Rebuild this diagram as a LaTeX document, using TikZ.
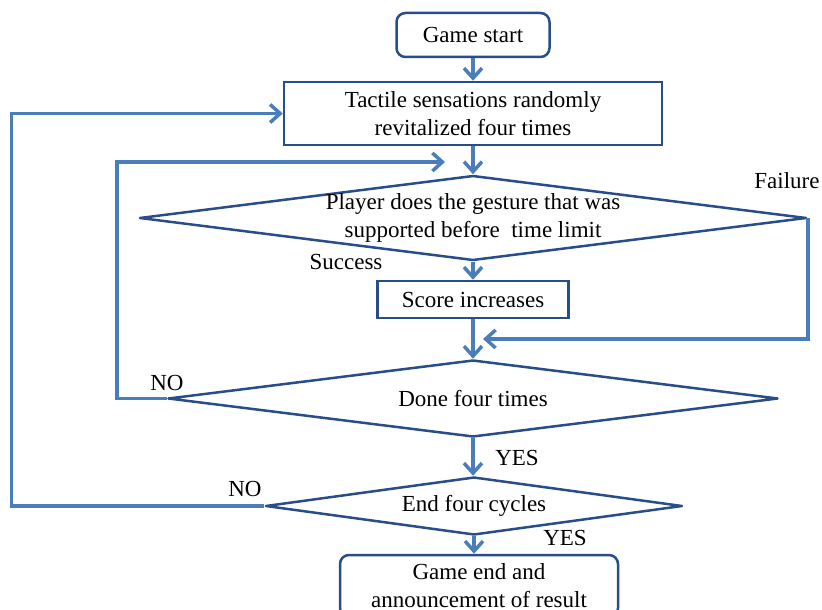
\documentclass[tikz,border=0pt]{standalone}
\usepackage{fontspec}
\setmainfont{Liberation Serif}
\usetikzlibrary{arrows.meta, shapes.geometric}

\definecolor{boxblue}{RGB}{41,77,137}
\definecolor{lineblue}{RGB}{74,126,187}

\tikzset{
  startbox/.style={draw=boxblue, line width=2.5pt, rounded corners=9pt, align=center, inner sep=0pt},
  procbox/.style={draw=boxblue, line width=2.5pt, align=center, inner sep=0pt},
  decision/.style={draw=boxblue, line width=2.5pt, line join=round, diamond, aspect=7.8, inner sep=-6pt, align=center},
  flow/.style={draw=lineblue, line width=3.5pt, -{Straight Barb[length=10pt, width=18pt]}},
  tag/.style={inner sep=0pt}
}

\begin{document}
\begin{tikzpicture}[x=1pt, y=-1pt, font=\fontsize{23}{28}\selectfont]
    \useasboundingbox (0,0) rectangle (822,610);
    % Start of the game
    \node[startbox, minimum width=153pt, minimum height=44pt] (start) at (473,35) {Game start};
    % Tactile sensations
    \node[procbox, minimum width=378pt, minimum height=63pt] (tactile) at (473,113.5) {Tactile sensations randomly\\revitalized four times};
    % Gesture check
    \node[decision, minimum width=667pt, minimum height=85pt] (gesture) at (473,218) {Player does the gesture that was\\supported before~ time limit};
    % Score
    \node[procbox, minimum width=191pt, minimum height=37pt] (score) at (473,299.5) {Score increases};
    % Done four times?
    \node[decision, minimum width=610pt, minimum height=77pt] (done) at (473,398.5) {Done four times};
    % End four cycles?
    \node[decision, minimum width=417pt, minimum height=58pt] (cycles) at (474,506) {End four cycles};
    % End of the game
    \node[startbox, minimum width=278pt, minimum height=62pt] (gameend) at (479,586) {Game end and\\announcement of result};
    % Branch labels
    \node[tag] (failure) at (787,181) {Failure};
    \node[tag] (success) at (346,262) {Success};
    \node[tag] (nodone) at (167,383) {NO};
    \node[tag] (yesdone) at (517,458) {YES};
    \node[tag] (nocycles) at (245,489) {NO};
    \node[tag] (yescycles) at (565,538) {YES};
    % Main flow
    \draw[flow] (start) -- (tactile);
    \draw[flow] (tactile) -- (gesture);
    \draw[flow] (gesture) -- (score);
    \draw[flow] (score) -- (done);
    \draw[flow] (done) -- (cycles.north -| done.south);
    \draw[flow] (cycles.south) -- (cycles.south |- gameend.north);
    % Loops back
    \coordinate (gesturein) at (445,162);
    \coordinate (failurein) at (483,339);
    \draw[flow] (gesture.east) |- (failurein);
    \draw[flow] (done.west) -- ++(-50,0) |- (gesturein);
    \draw[flow] (cycles.west) -- ++(-253,0) |- (tactile.west);
\end{tikzpicture}
\end{document}
